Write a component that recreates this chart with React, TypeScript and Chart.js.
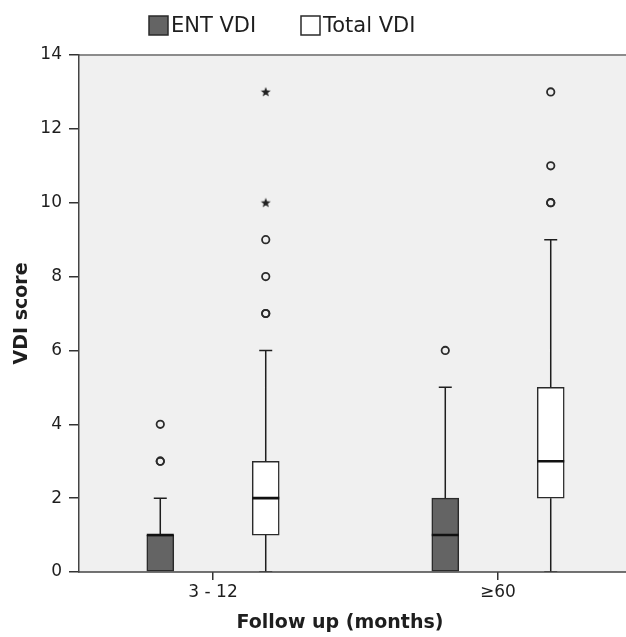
import React, { useEffect, useRef } from 'react';
import { Chart, registerables } from 'chart.js';

Chart.register(...registerables);

// ---- data ----
const categories = ['3 - 12', '≥60'];
const seriesNames = ['ENT VDI', 'Total VDI'];
const yTicks = [0, 2, 4, 6, 8, 10, 12, 14];

const entMin = [0, 0];
const entQ1 = [0, 0];
const entMedian = [1, 1];
const entQ3 = [1, 2];
const entMax = [2, 5];
const entOutliers = [[3, 3, 4], [6]];
const entExtremes: number[][] = [[], []];

const totalMin = [0, 0];
const totalQ1 = [1, 2];
const totalMedian = [2, 3];
const totalQ3 = [3, 5];
const totalMax = [6, 9];
const totalOutliers = [[7, 7, 8, 9], [10, 10, 11, 13]];
const totalExtremes = [[10, 13], []];

// ---- styling / layout constants ----
const FONT = '"DejaVu Sans", sans-serif';
const TEXT = '#1e1e1e';
const PLOT_BG = '#f0f0f0';
const ENT_FILL = '#646464';
const TOTAL_FILL = '#ffffff';
const OFFSET = 0.185;
const BOX_HALF = 0.0474;
const CAP_HALF = 0.0228;

type Series = {
  name: string;
  min: number[];
  q1: number[];
  med: number[];
  q3: number[];
  max: number[];
  outliers: number[][];
  extremes: number[][];
  offset: number;
  fill: string;
};

const series: Series[] = [
  { name: seriesNames[0], min: entMin, q1: entQ1, med: entMedian, q3: entQ3, max: entMax, outliers: entOutliers, extremes: entExtremes, offset: -OFFSET, fill: ENT_FILL },
  { name: seriesNames[1], min: totalMin, q1: totalQ1, med: totalMedian, q3: totalQ3, max: totalMax, outliers: totalOutliers, extremes: totalExtremes, offset: OFFSET, fill: TOTAL_FILL },
];

function makeStar(): HTMLCanvasElement {
  const c = document.createElement('canvas');
  c.width = 12;
  c.height = 12;
  const g = c.getContext('2d')!;
  g.fillStyle = '#222';
  g.beginPath();
  const cx = 6, cy = 6.3, R = 5.2, r = 2.2;
  for (let k = 0; k < 10; k++) {
    const ang = -Math.PI / 2 + (k * Math.PI) / 5;
    const rad = k % 2 === 0 ? R : r;
    const px = cx + rad * Math.cos(ang);
    const py = cy + rad * Math.sin(ang);
    if (k === 0) g.moveTo(px, py); else g.lineTo(px, py);
  }
  g.closePath();
  g.fill();
  return c;
}

const bgPlugin = {
  id: 'plotBg',
  beforeDraw(chart: any) {
    const { ctx, chartArea, width } = chart;
    ctx.save();
    ctx.fillStyle = PLOT_BG;
    ctx.fillRect(chartArea.left, chartArea.top, width - chartArea.left, chartArea.bottom - chartArea.top);
    ctx.strokeStyle = '#8c8c8c';
    ctx.lineWidth = 2;
    ctx.beginPath();
    ctx.moveTo(chartArea.left, chartArea.top);
    ctx.lineTo(width, chartArea.top);
    ctx.stroke();
    ctx.restore();
  },
  afterDraw(chart: any) {
    const { ctx, chartArea, width } = chart;
    ctx.save();
    ctx.strokeStyle = '#444';
    ctx.lineWidth = 1.5;
    ctx.beginPath();
    ctx.moveTo(chartArea.left - 1, chartArea.bottom);
    ctx.lineTo(width, chartArea.bottom);
    ctx.stroke();
    ctx.restore();
  },
};

const legendPlugin = {
  id: 'customLegend',
  afterDraw(chart: any) {
    const { ctx } = chart;
    ctx.save();
    ctx.font = `21px ${FONT}`;
    ctx.textBaseline = 'middle';
    ctx.textAlign = 'left';
    const items = [
      { x: 149, fill: ENT_FILL, label: seriesNames[0] },
      { x: 301, fill: TOTAL_FILL, label: seriesNames[1] },
    ];
    for (const it of items) {
      ctx.fillStyle = it.fill;
      ctx.fillRect(it.x, 16, 19, 19);
      ctx.strokeStyle = '#2a2a2a';
      ctx.lineWidth = 1.5;
      ctx.strokeRect(it.x, 16, 19, 19);
      ctx.fillStyle = TEXT;
      ctx.fillText(it.label, it.x + 22, 26.5);
    }
    ctx.restore();
  },
};

function buildDatasets(star: HTMLCanvasElement) {
  const datasets: any[] = [];
  for (const s of series) {
    // boxes
    datasets.push({
      type: 'bar',
      label: s.name,
      data: categories.map((_, i) => ({ x: i + s.offset, y: [s.q1[i], s.q3[i]] })),
      backgroundColor: s.fill,
      borderColor: '#2a2a2a',
      borderWidth: 1.5,
      borderSkipped: false,
      barThickness: 27,
      grouped: false,
      order: 3,
    });
    // whiskers + caps
    const wh: any[] = [];
    categories.forEach((_, i) => {
      const x = i + s.offset;
      if (s.max[i] > s.q3[i]) {
        wh.push({ x, y: s.q3[i] }, { x, y: s.max[i] }, { x, y: null });
        wh.push({ x: x - CAP_HALF, y: s.max[i] }, { x: x + CAP_HALF, y: s.max[i] }, { x, y: null });
      }
      if (s.q1[i] > s.min[i]) {
        wh.push({ x, y: s.min[i] }, { x, y: s.q1[i] }, { x, y: null });
        wh.push({ x: x - CAP_HALF, y: s.min[i] }, { x: x + CAP_HALF, y: s.min[i] }, { x, y: null });
      }
    });
    datasets.push({
      type: 'line',
      label: s.name + ' whiskers',
      data: wh,
      borderColor: '#1e1e1e',
      borderWidth: 1.5,
      pointRadius: 0,
      spanGaps: false,
      tension: 0,
      fill: false,
      order: 2,
    });
    // medians
    const md: any[] = [];
    categories.forEach((_, i) => {
      const x = i + s.offset;
      md.push({ x: x - BOX_HALF, y: s.med[i] }, { x: x + BOX_HALF, y: s.med[i] }, { x, y: null });
    });
    datasets.push({
      type: 'line',
      label: s.name + ' median',
      data: md,
      borderColor: '#111111',
      borderWidth: 2.6,
      pointRadius: 0,
      spanGaps: false,
      tension: 0,
      fill: false,
      order: 1,
    });
    // outliers
    datasets.push({
      type: 'scatter',
      label: s.name + ' outliers',
      data: categories.flatMap((_, i) => s.outliers[i].map((v) => ({ x: i + s.offset, y: v }))),
      pointStyle: 'circle',
      pointRadius: 3.7,
      pointBorderWidth: 1.8,
      pointBorderColor: '#2b2b2b',
      pointBackgroundColor: 'rgba(0,0,0,0)',
      order: 0,
    });
    // extremes
    datasets.push({
      type: 'scatter',
      label: s.name + ' extremes',
      data: categories.flatMap((_, i) => s.extremes[i].map((v) => ({ x: i + s.offset, y: v }))),
      pointStyle: star,
      pointRadius: 6,
      order: 0,
    });
  }
  return datasets;
}

export default function App() {
  const ref = useRef<HTMLCanvasElement | null>(null);

  useEffect(() => {
    if (!ref.current) return;
    const star = makeStar();
    const chart = new Chart(ref.current, {
      type: 'scatter',
      data: { datasets: buildDatasets(star) },
      options: {
        animation: false,
        responsive: true,
        maintainAspectRatio: false,
        layout: { padding: { top: 55, right: 25, left: 0, bottom: 0 } },
        plugins: { legend: { display: false }, tooltip: { enabled: false } },
        scales: {
          x: {
            type: 'linear',
            min: -0.4702,
            max: 1.3614,
            offset: false,
            afterBuildTicks: (s: any) => {
              s.ticks = categories.map((_, i) => ({ value: i }));
            },
            afterFit: (s: any) => {
              s.height = 65;
            },
            ticks: {
              callback: (v: any) => categories[Math.round(Number(v))] ?? '',
              font: { family: FONT, size: 17 },
              color: TEXT,
              padding: 2,
              maxRotation: 0,
              autoSkip: false,
            },
            grid: { display: true, offset: false, drawOnChartArea: false, drawTicks: true, tickLength: 8, color: '#333', lineWidth: 1.5 },
            border: { display: false },
            title: {
              display: true,
              text: 'Follow up (months)',
              font: { family: FONT, size: 19, weight: 'bold' },
              color: TEXT,
              padding: { top: 0, bottom: 3 },
            },
          },
          y: {
            type: 'linear',
            min: 0,
            max: 14,
            afterBuildTicks: (s: any) => {
              s.ticks = yTicks.map((v) => ({ value: v }));
            },
            afterFit: (s: any) => {
              s.width = 79;
            },
            ticks: { font: { family: FONT, size: 17 }, color: TEXT, padding: 7 },
            grid: { display: true, drawOnChartArea: false, drawTicks: true, tickLength: 10, color: '#333', lineWidth: 1.5 },
            border: { display: true, color: '#444', width: 1.5 },
            title: {
              display: true,
              text: 'VDI score',
              font: { family: FONT, size: 19, weight: 'bold' },
              color: TEXT,
              padding: { top: 11, bottom: 0 },
            },
          },
        },
      } as any,
      plugins: [bgPlugin, legendPlugin],
    });
    return () => chart.destroy();
  }, []);

  return (
    <div style={{ position: 'absolute', left: 0, top: 0, width: 626, height: 637 }}>
      <canvas ref={ref} />
    </div>
  );
}
